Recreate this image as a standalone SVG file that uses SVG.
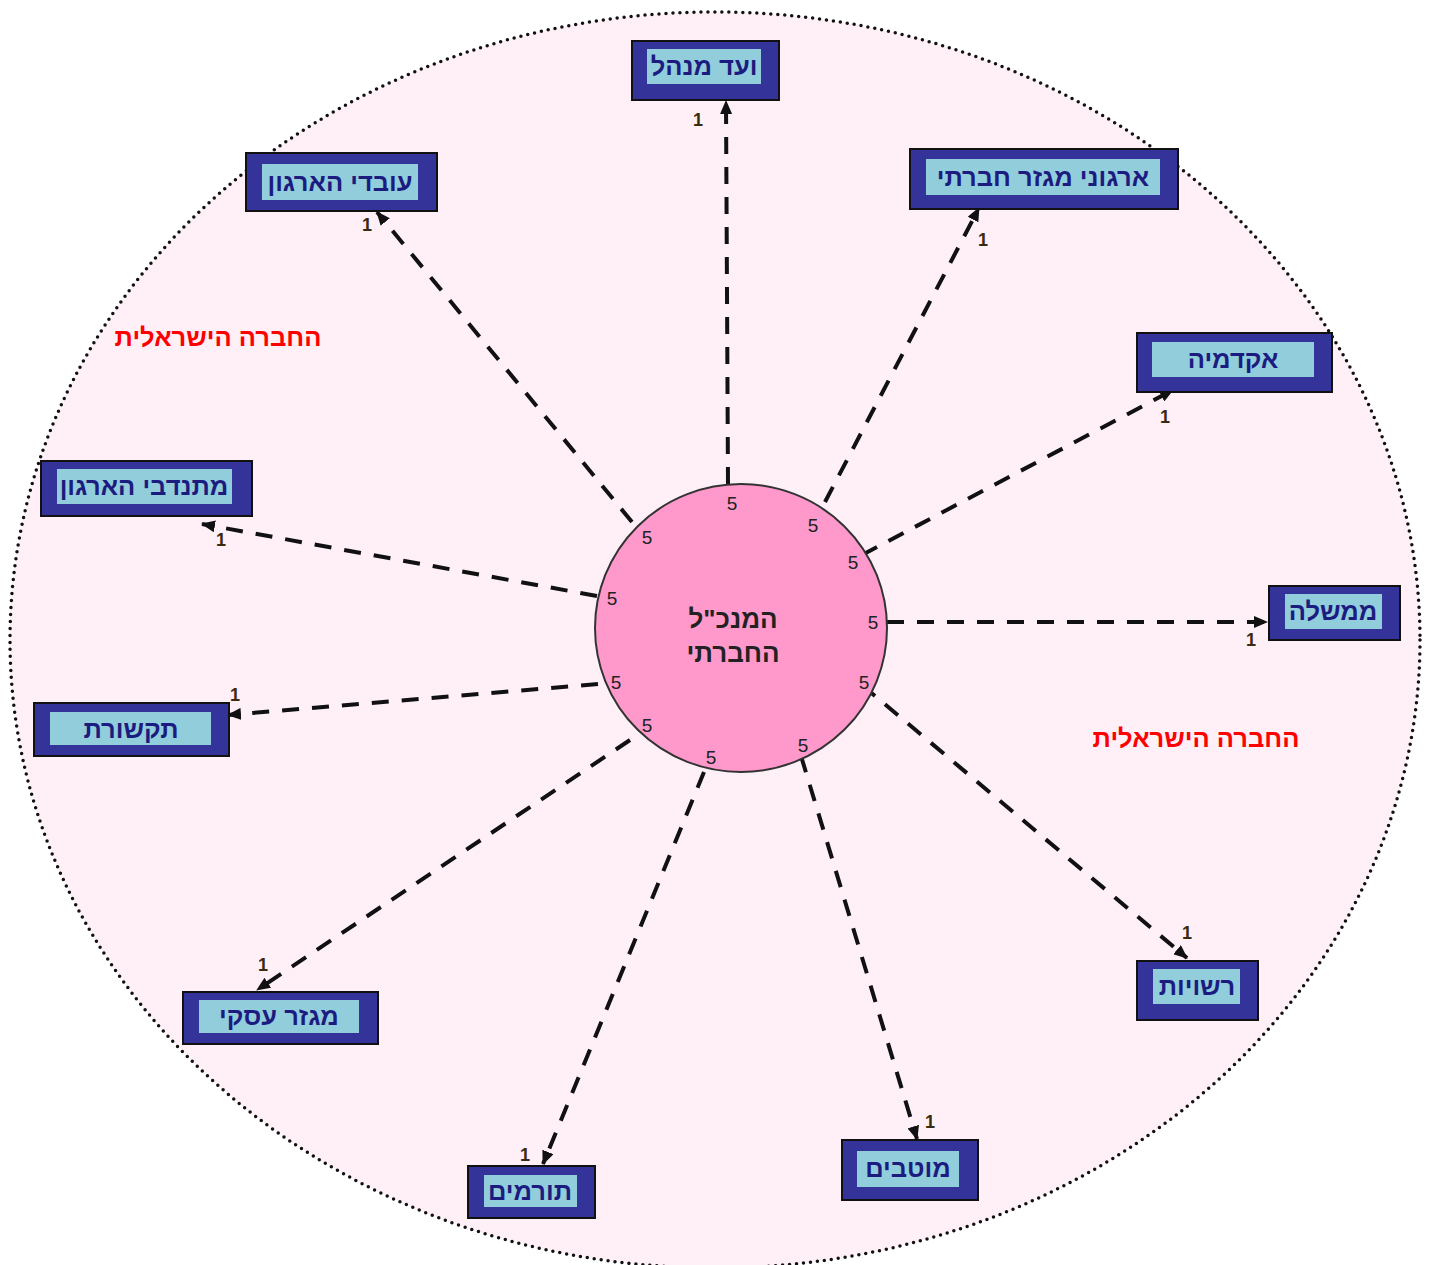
<svg xmlns="http://www.w3.org/2000/svg" width="1434" height="1265" viewBox="0 0 1434 1265">
<defs>
<style>
.bg{fill:#ffffff}
.society{fill:#fff0f7;stroke:#111;stroke-width:3.5;stroke-dasharray:0 7;stroke-linecap:round}
.outer{fill:#333399;stroke:#111;stroke-width:2}
.inner{fill:#92cddc}
.lbl{font-family:"Liberation Sans","DejaVu Sans",sans-serif;font-weight:bold;font-size:25.5px;fill:#1c1c80;text-anchor:middle;dominant-baseline:central}
.hub{fill:#ff99cc;stroke:#333;stroke-width:2}
.hubtxt{font-family:"Liberation Sans","DejaVu Sans",sans-serif;font-weight:bold;font-size:26px;fill:#222;text-anchor:middle;dominant-baseline:central}
.five{font-family:"Liberation Sans","DejaVu Sans",sans-serif;font-size:19px;fill:#222;text-anchor:middle;dominant-baseline:central}
.one{font-family:"Liberation Sans","DejaVu Sans",sans-serif;font-weight:bold;font-size:18px;fill:#3a2a10;text-anchor:middle;dominant-baseline:central}
.red{font-family:"Liberation Sans","DejaVu Sans",sans-serif;font-weight:bold;font-size:25.5px;fill:#ff0000;text-anchor:middle;dominant-baseline:central}
.conn{stroke:#111;stroke-width:4;stroke-dasharray:17 13;fill:none;marker-end:url(#ah)}
</style>
<marker id="ah" markerUnits="userSpaceOnUse" markerWidth="14" markerHeight="12" refX="13" refY="6" orient="auto">
<path d="M0,0 L14,6 L0,12 Z" fill="#111"/>
</marker>
</defs>
<rect class="bg" x="0" y="0" width="1434" height="1265"/>
<ellipse class="society" cx="715" cy="640" rx="705" ry="628"/>
<text class="red" x="218" y="337">החברה הישראלית</text>
<text class="red" x="1196" y="738">החברה הישראלית</text>

<g id="connectors">
<line class="conn" x1="728" y1="484" x2="726" y2="101"/>
<line class="conn" x1="632" y1="522" x2="377" y2="212"/>
<line class="conn" x1="825" y1="502" x2="979" y2="208"/>
<line class="conn" x1="862" y1="555" x2="1173" y2="390"/>
<line class="conn" x1="887" y1="622" x2="1267" y2="622"/>
<line class="conn" x1="597" y1="596" x2="202" y2="524"/>
<line class="conn" x1="598" y1="684" x2="228" y2="715"/>
<line class="conn" x1="630" y1="740" x2="257" y2="990"/>
<line class="conn" x1="704" y1="772" x2="543" y2="1164"/>
<line class="conn" x1="801" y1="756" x2="917" y2="1139"/>
<line class="conn" x1="862" y1="685" x2="1187" y2="958"/>
</g>

<g id="hub">
<ellipse class="hub" cx="741" cy="628" rx="146" ry="144"/>
<text class="hubtxt" x="733" y="619">המנכ"ל</text>
<text class="hubtxt" x="733" y="653">החברתי</text>
<text class="five" x="732" y="503">5</text>
<text class="five" x="813" y="525">5</text>
<text class="five" x="647" y="537">5</text>
<text class="five" x="853" y="562">5</text>
<text class="five" x="612" y="598">5</text>
<text class="five" x="873" y="622">5</text>
<text class="five" x="616" y="682">5</text>
<text class="five" x="864" y="682">5</text>
<text class="five" x="647" y="725">5</text>
<text class="five" x="803" y="745">5</text>
<text class="five" x="711" y="757">5</text>
</g>

<g id="n-board">
<rect class="outer" x="632" y="41" width="147" height="59"/>
<rect class="inner" x="647" y="49" width="114" height="35"/>
<text class="lbl" x="704" y="66">ועד מנהל</text>
<text class="one" x="698" y="120">1</text>
</g>
<g id="n-employees">
<rect class="outer" x="246" y="153" width="191" height="58"/>
<rect class="inner" x="262" y="164" width="156" height="36"/>
<text class="lbl" x="340" y="182">עובדי הארגון</text>
<text class="one" x="367" y="225">1</text>
</g>
<g id="n-socialorgs">
<rect class="outer" x="910" y="149" width="268" height="60"/>
<rect class="inner" x="926" y="159" width="234" height="36"/>
<text class="lbl" x="1043" y="177">ארגוני מגזר חברתי</text>
<text class="one" x="983" y="240">1</text>
</g>
<g id="n-academia">
<rect class="outer" x="1137" y="333" width="195" height="59"/>
<rect class="inner" x="1152" y="342" width="162" height="35"/>
<text class="lbl" x="1233" y="359">אקדמיה</text>
<text class="one" x="1165" y="417">1</text>
</g>
<g id="n-government">
<rect class="outer" x="1269" y="586" width="131" height="54"/>
<rect class="inner" x="1285" y="594" width="97" height="35"/>
<text class="lbl" x="1333" y="611">ממשלה</text>
<text class="one" x="1251" y="640">1</text>
</g>
<g id="n-volunteers">
<rect class="outer" x="41" y="461" width="211" height="55"/>
<rect class="inner" x="57" y="469" width="175" height="35"/>
<text class="lbl" x="144" y="486">מתנדבי הארגון</text>
<text class="one" x="221" y="540">1</text>
</g>
<g id="n-media">
<rect class="outer" x="34" y="703" width="195" height="53"/>
<rect class="inner" x="50" y="712" width="161" height="33"/>
<text class="lbl" x="131" y="729">תקשורת</text>
<text class="one" x="235" y="695">1</text>
</g>
<g id="n-business">
<rect class="outer" x="183" y="992" width="195" height="52"/>
<rect class="inner" x="199" y="1000" width="160" height="33"/>
<text class="lbl" x="279" y="1016">מגזר עסקי</text>
<text class="one" x="263" y="965">1</text>
</g>
<g id="n-donors">
<rect class="outer" x="468" y="1166" width="127" height="52"/>
<rect class="inner" x="484" y="1175" width="93" height="32"/>
<text class="lbl" x="530" y="1191">תורמים</text>
<text class="one" x="525" y="1155">1</text>
</g>
<g id="n-beneficiaries">
<rect class="outer" x="842" y="1140" width="136" height="60"/>
<rect class="inner" x="857" y="1151" width="102" height="36"/>
<text class="lbl" x="908" y="1168">מוטבים</text>
<text class="one" x="930" y="1122">1</text>
</g>
<g id="n-authorities">
<rect class="outer" x="1137" y="961" width="121" height="59"/>
<rect class="inner" x="1153" y="969" width="87" height="35"/>
<text class="lbl" x="1197" y="986">רשויות</text>
<text class="one" x="1187" y="933">1</text>
</g>
</svg>
